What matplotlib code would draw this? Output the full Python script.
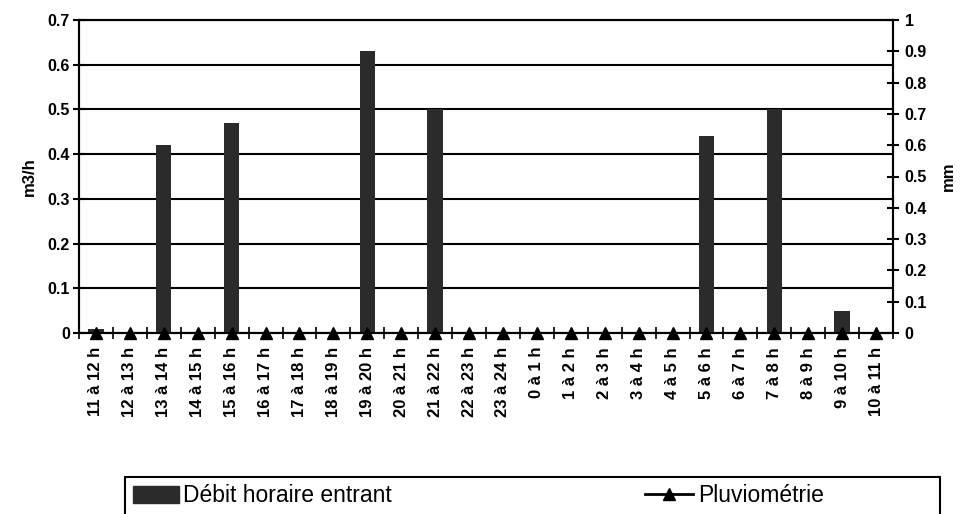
import matplotlib
matplotlib.use("Agg")
import matplotlib.pyplot as plt
import numpy as np
from matplotlib.patches import Patch, Rectangle
from matplotlib.lines import Line2D

plt.rcParams['font.family'] = ['Liberation Sans', 'DejaVu Sans']

categories = ["11 à 12 h", "12 à 13 h", "13 à 14 h", "14 à 15 h", "15 à 16 h", "16 à 17 h",
              "17 à 18 h", "18 à 19 h", "19 à 20 h", "20 à 21 h", "21 à 22 h", "22 à 23 h",
              "23 à 24 h", "0 à 1 h", "1 à 2 h", "2 à 3 h", "3 à 4 h", "4 à 5 h",
              "5 à 6 h", "6 à 7 h", "7 à 8 h", "8 à 9 h", "9 à 10 h", "10 à 11 h"]
debit = [0.01, 0, 0.42, 0, 0.47, 0, 0, 0, 0.63, 0, 0.50, 0,
         0, 0, 0, 0, 0, 0, 0.44, 0, 0.50, 0, 0.05, 0]
pluvio = [0] * 24
left_ticks = ["0", "0.1", "0.2", "0.3", "0.4", "0.5", "0.6", "0.7"]
right_ticks = ["0", "0.1", "0.2", "0.3", "0.4", "0.5", "0.6", "0.7", "0.8", "0.9", "1"]

W, H = 961, 514
fig = plt.figure(figsize=(W/100, H/100), dpi=100)
ax = fig.add_axes([79/W, 1-333/H, (893-79)/W, (333-20)/H])
x = np.arange(len(categories))

ax.bar(x, debit, width=0.45, color='#2b2b2b', zorder=3)
ax.set_xlim(-0.5, len(categories)-0.5)
ax.set_ylim(0, 0.7)
ax.set_yticks(np.linspace(0, 0.7, len(left_ticks)))
ax.set_yticklabels(left_ticks, fontsize=11.5, fontweight='bold')
ax.grid(axis='y', color='black', linewidth=1.5, zorder=1)
ax.set_xticks(x)
ax.set_xticklabels(categories, rotation=90, fontsize=12, fontweight='bold')
ax.tick_params(axis='x', length=0, pad=10)
ax.set_xticks(np.arange(-0.5, len(categories), 1), minor=True)
ax.tick_params(axis='x', which='minor', direction='inout', length=8, width=1.2)
ax.tick_params(axis='y', direction='inout', length=9, width=1.5, pad=2)
ax.set_ylabel("m3/h", fontsize=12, fontweight='bold', labelpad=8)
for s in ax.spines.values():
    s.set_linewidth(1.5)

ax2 = ax.twinx()
ax2.plot(x, pluvio, color='black', linewidth=1.2, marker='^', markersize=8,
         zorder=4, clip_on=False)
ax2.set_ylim(0, 1)
ax2.set_yticks(np.linspace(0, 1, len(right_ticks)))
ax2.set_yticklabels(right_ticks, fontsize=11.5, fontweight='bold')
ax2.tick_params(axis='y', direction='inout', length=9, width=1.5, pad=4)
ax2.set_ylabel("mm", fontsize=12, fontweight='bold', labelpad=10)
ax2.set_xlim(-0.5, len(categories)-0.5)
for s in ax2.spines.values():
    s.set_linewidth(1.5)

# legend frame (extends below the figure)
fig.add_artist(Rectangle((125/W, -0.05), (940-125)/W, 0.05 + (1-477/H),
                         transform=fig.transFigure, fill=False,
                         edgecolor='black', linewidth=1.5))
fs = 16.5
leg1 = fig.legend([Patch(facecolor='#2b2b2b', edgecolor='#2b2b2b')],
                  ["Débit horaire entrant"], loc='center left',
                  bbox_to_anchor=(125/W, 1-496/H), fontsize=fs, frameon=False,
                  handlelength=2.0, handleheight=0.8, handletextpad=0.2,
                  borderpad=0, borderaxespad=0.35)
leg2 = fig.legend([Line2D([0], [0], color='black', marker='^', markersize=8, linewidth=2)],
                  ["Pluviométrie"], loc='center left',
                  bbox_to_anchor=(645/W, 1-496/H), fontsize=fs, frameon=False,
                  handlelength=2.1, handletextpad=0.2,
                  borderpad=0, borderaxespad=0)

fig.savefig("out.png", dpi=100)
